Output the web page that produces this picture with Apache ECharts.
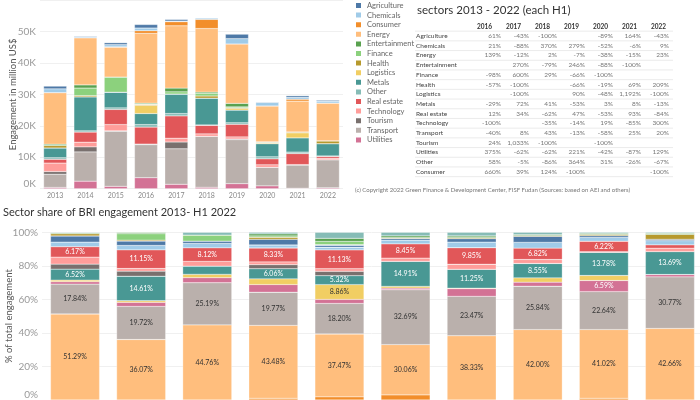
<!DOCTYPE html>
<html>
<head>
<meta charset="utf-8">
<title>BRI engagement by sector</title>
<script src="https://cdn.jsdelivr.net/npm/echarts/dist/echarts.min.js"></script>
</head>
<body style="margin:0">
<div id="container" style="width:700px;height:400px"></div>
<script type="text/javascript">

// years shown on both bar charts
let years = ['2013', '2014', '2015', '2016', '2017', '2018', '2019', '2020', '2021', '2022'];
let sectors = ['Agriculture', 'Chemicals', 'Consumer', 'Energy', 'Entertainment', 'Finance', 'Health',
    'Logistics', 'Metals', 'Other', 'Real estate', 'Technology', 'Tourism', 'Transport', 'Utilities'];
let sectorColors = ['#4e79a7', '#a0cbe8', '#f28e2b', '#ffbe7d', '#59a14f', '#8cd17d', '#b6992d',
    '#f1ce63', '#499894', '#86bcb6', '#e15759', '#ff9d9a', '#79706e', '#bab0ac', '#d37295'];

// ******************************
// engagement (each H1), million US$
let engAgriculture   = [850, 200, 600, 1100, 500, 0, 1400, 150, 500, 300];
let engChemicals     = [1200, 300, 700, 850, 200, 450, 1700, 1100, 600, 600];
let engConsumer      = [0, 0, 110, 850, 1300, 2900, 0, 0, 600, 0];
let engEnergy        = [16400, 15000, 9500, 22200, 19800, 20200, 18900, 11400, 9800, 12000];
let engEntertainment = [400, 1000, 0, 300, 1200, 400, 1100, 150, 0, 0];
let engFinance       = [0, 2400, 4800, 100, 700, 850, 300, 0, 0, 0];
let engHealth        = [800, 400, 0, 300, 0, 700, 250, 200, 300, 900];
let engLogistics     = [0, 0, 0, 2600, 0, 0, 500, 260, 1600, 0];
let engMetals        = [3100, 10800, 5000, 3500, 6200, 8500, 4000, 4150, 4500, 3900];
let engOther         = [500, 400, 500, 800, 750, 150, 500, 650, 480, 160];
let engRealEstate    = [1200, 3200, 4800, 5400, 7100, 2700, 4000, 1900, 3500, 580];
let engTechnology    = [2700, 1500, 2000, 0, 1200, 780, 670, 800, 120, 480];
let engTourism       = [850, 1600, 150, 190, 2150, 0, 200, 0, 0, 0];
let engTransport     = [4200, 9300, 17500, 10500, 11300, 16200, 14000, 5900, 7400, 8900];
let engUtilities     = [400, 2400, 750, 3500, 1400, 450, 1600, 900, 150, 300];

// ******************************
// share of total engagement (full years, H1 2022), %
let shrConsumer      = [0, 0, 0, 1, 1.9, 3, 0, 0, 1, 0];
let shrEnergy        = [51.29, 36.07, 44.76, 43.48, 37.47, 30.06, 38.33, 42.00, 41.02, 42.66];
let shrTransport     = [17.84, 19.72, 25.19, 19.77, 18.20, 32.69, 23.47, 25.84, 22.64, 30.77];
let shrUtilities     = [1.4, 2.4, 3, 4.6, 2.4, 1, 4.6, 2.4, 6.59, 1.4];
let shrLogistics     = [1, 1, 2, 3.4, 8.86, 1, 0.3, 2.6, 3, 0];
let shrMetals        = [6.52, 14.61, 4.9, 6.06, 5.32, 14.91, 11.25, 8.55, 13.78, 13.69];
let shrTourism       = [3, 3, 0, 2.4, 2.6, 0, 0, 0, 0, 0];
let shrTechnology    = [4.18, 1.6, 2.8, 1.6, 1.6, 2, 3, 2.4, 0.4, 2];
let shrRealEstate    = [6.17, 11.15, 8.12, 8.33, 11.13, 8.45, 9.85, 6.82, 6.22, 2];
let shrChemicals     = [2.8, 2.6, 2.6, 1.8, 1.6, 2.2, 3.4, 3.4, 2.35, 2.5];
let shrAgriculture   = [3.6, 2.6, 1.4, 3.4, 1.2, 1.0, 2, 3.6, 1, 0.8];
let shrHealth        = [1.4, 0.6, 0, 1.2, 0.3, 0.5, 0.6, 0.4, 0.8, 3];
let shrFinance       = [0, 3.8, 3.6, 0.8, 2, 0, 0, 0, 0, 0];
let shrEntertainment = [0.4, 0.8, 0, 1.2, 1.8, 1, 1, 0.6, 0.6, 0.6];
let shrOther         = [0.4, 0, 1.6, 1.0, 3.6, 2.2, 2.2, 1.4, 0.6, 0.6];

// ******************************
// year on year change table
let yoyYears = ['2016', '2017', '2018', '2019', '2020', '2021', '2022'];
let yoyRowNames = ['Agriculture', 'Chemicals', 'Energy', 'Entertainment', 'Finance', 'Health', 'Logistics',
    'Metals', 'Real estate', 'Technology', 'Transport', 'Tourism', 'Utilities', 'Other', 'Consumer'];
let yoyValues = [
    ['61%', '-43%', '-100%', '', '-89%', '164%', '-43%'],
    ['21%', '-88%', '370%', '279%', '-52%', '-6%', '9%'],
    ['139%', '-12%', '2%', '-7%', '-38%', '-15%', '23%'],
    ['', '270%', '-79%', '246%', '-88%', '-100%', ''],
    ['-98%', '600%', '29%', '-66%', '-100%', '', ''],
    ['-57%', '-100%', '', '-66%', '-19%', '69%', '209%'],
    ['', '-100%', '', '90%', '-48%', '1,192%', '-100%'],
    ['-29%', '72%', '41%', '-53%', '3%', '8%', '-13%'],
    ['12%', '34%', '-62%', '47%', '-53%', '93%', '-84%'],
    ['-100%', '', '-35%', '-14%', '19%', '-85%', '300%'],
    ['-40%', '8%', '43%', '-13%', '-58%', '25%', '20%'],
    ['24%', '1,033%', '-100%', '', '-100%', '', ''],
    ['375%', '-62%', '-62%', '221%', '-42%', '-87%', '129%'],
    ['58%', '-5%', '-86%', '364%', '31%', '-26%', '-67%'],
    ['660%', '39%', '124%', '-100%', '', '', '-100%']
];

let FONT = 'Lato';

let engBySector = {
    'Agriculture': engAgriculture, 'Chemicals': engChemicals, 'Consumer': engConsumer, 'Energy': engEnergy,
    'Entertainment': engEntertainment, 'Finance': engFinance, 'Health': engHealth, 'Logistics': engLogistics,
    'Metals': engMetals, 'Other': engOther, 'Real estate': engRealEstate, 'Technology': engTechnology,
    'Tourism': engTourism, 'Transport': engTransport, 'Utilities': engUtilities
};
// bottom chart stacks in its own order (first = bottom)
let shareStack = [
    ['Consumer', shrConsumer], ['Energy', shrEnergy], ['Transport', shrTransport], ['Utilities', shrUtilities],
    ['Logistics', shrLogistics], ['Metals', shrMetals], ['Tourism', shrTourism], ['Technology', shrTechnology],
    ['Real estate', shrRealEstate], ['Chemicals', shrChemicals], ['Agriculture', shrAgriculture],
    ['Health', shrHealth], ['Finance', shrFinance], ['Entertainment', shrEntertainment], ['Other', shrOther]
];
let whiteLabel = ['Real estate', 'Metals', 'Utilities'];

function colorOf(name) { return sectorColors[sectors.indexOf(name)]; }

// top stacked bars: Utilities at the bottom, Agriculture on top
let series = sectors.slice().reverse().map(function (name) {
    return {
        name: name, type: 'bar', stack: 'eng', xAxisIndex: 0, yAxisIndex: 0, barWidth: 23,
        itemStyle: { color: colorOf(name), borderColor: '#ffffff', borderWidth: 0.3 },
        data: engBySector[name]
    };
});

shareStack.forEach(function (s) {
    let name = s[0];
    series.push({
        name: name, type: 'bar', stack: 'share', xAxisIndex: 1, yAxisIndex: 1, barWidth: 49,
        itemStyle: { color: colorOf(name), borderColor: '#ffffff', borderWidth: 0.3 },
        label: {
            show: true, position: 'inside', fontFamily: FONT, fontSize: 7,
            color: whiteLabel.indexOf(name) >= 0 ? '#ffffff' : '#333333',
            formatter: function (p) { return p.value >= 5.2 ? p.value.toFixed(2) + '%' : ''; }
        },
        data: s[1]
    });
});

// table drawn as text
let graphics = [];
graphics.push({ type: 'text', x: 417, y: 10, style: { text: 'sectors 2013 - 2022 (each H1)', fill: '#333',
    fontFamily: FONT, fontSize: 11.5, verticalAlign: 'middle' } });
yoyYears.forEach(function (y, i) {
    graphics.push({ type: 'text', x: 477 + 29 * i, y: 27, style: { text: y, fill: '#333', fontFamily: FONT,
        fontSize: 6.5, fontWeight: 'bold', verticalAlign: 'middle' } });
});
yoyRowNames.forEach(function (name, r) {
    let cy = 36 + 9.7 * r;
    graphics.push({ type: 'line', shape: { x1: 415, y1: cy - 4.85, x2: 673, y2: cy - 4.85 },
        style: { stroke: '#e6e6e6', lineWidth: 0.8 } });
    graphics.push({ type: 'text', x: 416, y: cy, style: { text: name, fill: '#444', fontFamily: FONT,
        fontSize: 6.5, verticalAlign: 'middle' } });
    yoyValues[r].forEach(function (v, i) {
        graphics.push({ type: 'text', x: 501 + 28 * i, y: cy, style: { text: v, fill: '#777', fontFamily: FONT,
            fontSize: 6.5, align: 'right', verticalAlign: 'middle' } });
    });
});
graphics.push({ type: 'line', shape: { x1: 415, y1: 36 + 9.7 * 14 + 4.85, x2: 673, y2: 36 + 9.7 * 14 + 4.85 },
    style: { stroke: '#e6e6e6', lineWidth: 0.8 } });
graphics.push({ type: 'text', x: 355, y: 190, style: {
    text: '(c) Copyright 2022 Green Finance & Development Center, FISF Fudan (Sources: based on AEI and others)',
    fill: '#777', fontFamily: FONT, fontSize: 6, verticalAlign: 'middle' } });
graphics.push({ type: 'text', x: 3, y: 212, style: { text: 'Sector share of BRI engagement 2013- H1 2022',
    fill: '#333', fontFamily: FONT, fontSize: 11, verticalAlign: 'middle' } });

let dom = document.getElementById('container');
let chart = echarts.init(dom);
chart.setOption({
    animation: false,
    textStyle: { fontFamily: FONT },
    legend: {
        orient: 'vertical', left: 349, top: -4, icon: 'rect', itemWidth: 7, itemHeight: 7, itemGap: 0.6,
        selectedMode: false, data: sectors,
        textStyle: { fontFamily: FONT, fontSize: 7.5, lineHeight: 8, color: '#666' }
    },
    grid: [
        { left: 40, right: 357, top: 0, bottom: 211.3, outerBoundsMode: 'none' },
        { left: 42, right: -3, top: 232.3, bottom: 0, outerBoundsMode: 'none' }
    ],
    xAxis: [
        { type: 'category', gridIndex: 0, data: years, axisLine: { show: false }, axisTick: { show: false },
          axisLabel: { fontSize: 7, color: '#888', margin: 4 } },
        { type: 'category', gridIndex: 1, data: years, axisLine: { show: false }, axisTick: { show: false },
          axisLabel: { show: false } }
    ],
    yAxis: [
        { type: 'value', gridIndex: 0, min: 0, max: 60000, interval: 10000,
          name: 'Engagement in million US$', nameLocation: 'middle', nameGap: 22, nameMoveOverlap: false,
          nameTextStyle: { fontSize: 9.5, color: '#555' },
          axisLabel: { fontSize: 10, color: '#999', margin: 4, showMaxLabel: false, verticalAlignMinLabel: 'bottom',
              formatter: function (v) { return (v / 1000) + 'K'; } },
          splitLine: { lineStyle: { color: '#f0f0f0' } } },
        { type: 'value', gridIndex: 1, min: 0, max: 100, interval: 20,
          name: '% of total engagement', nameLocation: 'middle', nameGap: 28, nameMoveOverlap: false,
          nameTextStyle: { fontSize: 9.5, color: '#555' },
          axisLabel: { fontSize: 10, color: '#999', margin: 4, verticalAlignMinLabel: 'bottom',
              formatter: '{value}%' },
          splitLine: { lineStyle: { color: '#f0f0f0' } } }
    ],
    graphic: graphics,
    series: series
});

</script>
</body>
</html>
